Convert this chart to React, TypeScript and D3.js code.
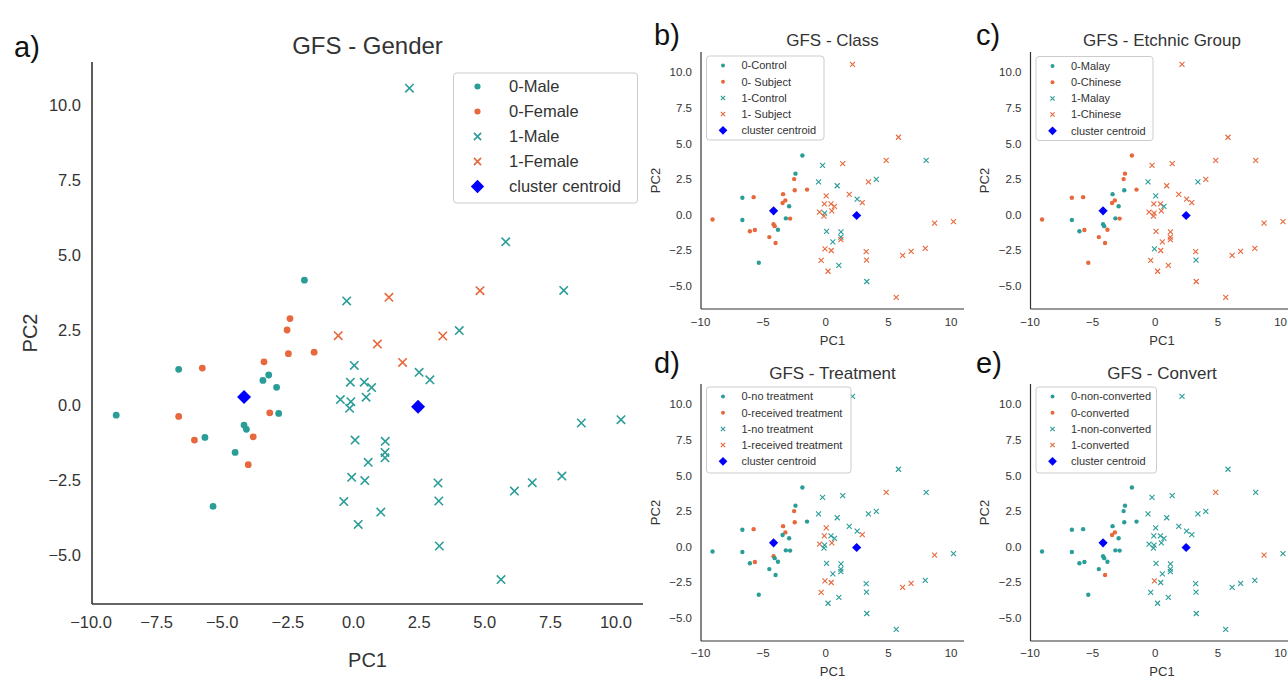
import React from "react";
import * as d3 from "d3";

// ---- data (PC1 / PC2) ----
// cluster 0 (dots)
const c0x = [-1.87, -2.42, -2.53, -2.48, -1.5, -3.41, -6.66, -5.76, -3.23, -3.45, -2.93, -9.04, -6.66, -3.19, -2.85, -4.17, -4.08, -3.82, -6.06, -5.66, -4.51, -4.01, -5.35];
const c0y = [4.16, 2.88, 2.5, 1.71, 1.76, 1.44, 1.19, 1.23, 1.0, 0.82, 0.59, -0.34, -0.38, -0.26, -0.28, -0.67, -0.81, -1.06, -1.17, -1.08, -1.58, -1.99, -3.38];
// cluster 1 (crosses)
const c1x = [2.13, 5.8, 4.82, 8.01, 1.35, -0.26, 4.03, 3.4, -0.58, 0.91, 1.87, 2.5, 2.91, 0.03, -0.12, 0.41, 0.69, -0.5, -0.1, -0.15, 0.48, 0.06, 1.21, 1.2, 1.2, 0.56, -0.07, 0.43, 3.22, -0.37, 3.25, 1.04, 0.18, 3.27, 5.62, 6.13, 6.81, 7.94, 8.68, 10.19];
const c1y = [10.56, 5.44, 3.81, 3.82, 3.59, 3.47, 2.48, 2.3, 2.31, 2.03, 1.42, 1.09, 0.84, 1.32, 0.76, 0.76, 0.58, 0.18, 0.11, -0.11, 0.26, -1.17, -1.21, -1.58, -1.76, -1.91, -2.41, -2.52, -2.6, -3.22, -3.2, -3.57, -3.98, -4.7, -5.82, -2.87, -2.59, -2.37, -0.6, -0.49];
const centroidX = [-4.17, 2.46];
const centroidY = [0.27, -0.06];

// group membership per panel (0 = first group / teal, 1 = second group / orange)
const gender0 = [0, 1, 1, 1, 1, 1, 0, 1, 0, 0, 0, 0, 1, 1, 0, 0, 0, 1, 1, 0, 0, 1, 0];
const gender1 = [0, 0, 1, 0, 1, 0, 0, 1, 1, 1, 1, 0, 0, 0, 0, 0, 0, 0, 0, 0, 0, 0, 0, 0, 0, 0, 0, 0, 0, 0, 0, 0, 0, 0, 0, 0, 0, 0, 0, 0];
const class0 = [0, 0, 1, 1, 1, 1, 0, 1, 1, 1, 0, 1, 0, 0, 1, 1, 1, 0, 1, 1, 1, 1, 0];
const class1 = [1, 1, 1, 0, 1, 0, 0, 1, 0, 0, 1, 0, 1, 1, 1, 1, 1, 1, 0, 1, 1, 0, 0, 0, 1, 0, 1, 1, 1, 1, 1, 0, 1, 0, 1, 1, 1, 1, 1, 1];
const ethnic0 = [1, 1, 1, 0, 1, 0, 1, 1, 1, 1, 0, 1, 0, 0, 1, 0, 0, 1, 0, 1, 1, 1, 1];
const ethnic1 = [1, 1, 1, 1, 1, 1, 1, 0, 0, 1, 1, 1, 1, 0, 1, 1, 0, 1, 1, 1, 1, 1, 1, 1, 1, 1, 0, 1, 1, 1, 0, 1, 1, 1, 1, 1, 1, 1, 1, 1];
const treat0 = [0, 0, 1, 1, 0, 1, 0, 1, 1, 0, 0, 0, 0, 0, 0, 1, 0, 0, 0, 1, 0, 0, 0];
const treat1 = [0, 0, 1, 0, 0, 0, 0, 0, 0, 0, 0, 0, 1, 1, 1, 0, 0, 1, 0, 0, 1, 0, 0, 0, 0, 0, 1, 1, 0, 1, 0, 0, 0, 0, 0, 1, 1, 0, 1, 0];
const convert0 = [0, 0, 0, 0, 0, 0, 0, 0, 1, 1, 0, 0, 0, 0, 0, 0, 0, 0, 0, 0, 0, 1, 0];
const convert1 = [0, 0, 1, 0, 0, 0, 0, 0, 0, 0, 0, 0, 0, 0, 0, 0, 0, 0, 0, 0, 0, 0, 0, 0, 0, 0, 1, 0, 0, 0, 0, 0, 0, 0, 0, 0, 0, 0, 1, 0];

const genderLabels = ["0-Male", "0-Female", "1-Male", "1-Female", "cluster centroid"];
const classLabels = ["0-Control", "0- Subject", "1-Control", "1- Subject", "cluster centroid"];
const ethnicLabels = ["0-Malay", "0-Chinese", "1-Malay", "1-Chinese", "cluster centroid"];
const treatLabels = ["0-no treatment", "0-received treatment", "1-no treatment", "1-received treatment", "cluster centroid"];
const convertLabels = ["0-non-converted", "0-converted", "1-non-converted", "1-converted", "cluster centroid"];

const xTicksMain = [-10, -7.5, -5, -2.5, 0, 2.5, 5, 7.5, 10];
const xTicksSmall = [-10, -5, 0, 5, 10];
const yTicks = [-5, -2.5, 0, 2.5, 5, 7.5, 10];

const X_DOMAIN: [number, number] = [-9.962, 11.029];
const Y_DOMAIN: [number, number] = [-6.633, 11.433];

const TEAL = "#2A9D98";
const ORANGE = "#E6683C";
const BLUE = "#0000FF";
const TXT = "#333333";
const FONT = "'Liberation Sans', Arial, Helvetica, sans-serif";

type Style = {
  r: number; cs: number; sw: number; ds: number;
  tickFont: number; titleFont: number; letterFont: number; axisFont: number; legendFont: number;
  spineW: number;
};

const mainStyle: Style = { r: 3.4, cs: 4.2, sw: 1.6, ds: 7, tickFont: 16.5, titleFont: 24, letterFont: 29, axisFont: 20, legendFont: 16.5, spineW: 1.6 };
const smallStyle: Style = { r: 2.2, cs: 2.5, sw: 1.1, ds: 4.6, tickFont: 11.5, titleFont: 17, letterFont: 29, axisFont: 13, legendFont: 11, spineW: 1.2 };

const crossPath = (x: number, y: number, s: number) =>
  `M${x - s},${y - s}L${x + s},${y + s}M${x - s},${y + s}L${x + s},${y - s}`;
const diamondPath = (x: number, y: number, s: number) =>
  `M${x},${y - s}L${x + s},${y}L${x},${y + s}L${x - s},${y}Z`;

type PanelProps = {
  left: number; top: number; width: number; height: number;
  letter: string; letterX: number; letterY: number;
  title: string; titleY: number;
  labels: string[]; f0: number[]; f1: number[];
  xTicks: number[]; xFmt: (v: number) => string;
  st: Style;
  legend: { x: number; y: number; w: number; h: number; row0: number; rowH: number; mx: number; tx: number };
  ylabX: number; xlabY: number; xTickDy: number; yTickDx: number;
};

function Panel(p: PanelProps) {
  const x = d3.scaleLinear().domain(X_DOMAIN).range([p.left, p.left + p.width]);
  const y = d3.scaleLinear().domain(Y_DOMAIN).range([p.top + p.height, p.top]);
  const st = p.st;
  const bottom = p.top + p.height;
  const yFmt = d3.format(".1f");
  const lg = p.legend;
  const legendMarker = (i: number, cy: number) => {
    const cx = lg.mx;
    if (i === 0) return <circle cx={cx} cy={cy} r={st.r * 0.9} fill={TEAL} />;
    if (i === 1) return <circle cx={cx} cy={cy} r={st.r * 0.9} fill={ORANGE} />;
    if (i === 2) return <path d={crossPath(cx, cy, st.cs * 0.85)} stroke={TEAL} strokeWidth={st.sw} fill="none" />;
    if (i === 3) return <path d={crossPath(cx, cy, st.cs * 0.85)} stroke={ORANGE} strokeWidth={st.sw} fill="none" />;
    return <path d={diamondPath(cx, cy, st.ds * 0.95)} fill={BLUE} />;
  };
  return (
    <g fontFamily={FONT}>
      <text x={p.letterX} y={p.letterY} fontSize={st.letterFont} fill="#111">{p.letter}</text>
      <text x={p.left + p.width / 2} y={p.titleY} fontSize={st.titleFont} textAnchor="middle" fill={TXT}>{p.title}</text>
      {/* spines */}
      <line x1={p.left} x2={p.left} y1={p.top} y2={bottom} stroke={TXT} strokeWidth={st.spineW} />
      <line x1={p.left} x2={p.left + p.width} y1={bottom} y2={bottom} stroke={TXT} strokeWidth={st.spineW} />
      {/* ticks */}
      {p.xTicks.map((t) => (
        <text key={"x" + t} x={x(t)} y={bottom + p.xTickDy} fontSize={st.tickFont} textAnchor="middle" fill={TXT}>{p.xFmt(t)}</text>
      ))}
      {yTicks.map((t) => (
        <text key={"y" + t} x={p.left - p.yTickDx} y={y(t)} dy="0.35em" fontSize={st.tickFont} textAnchor="end" fill={TXT}>{yFmt(t)}</text>
      ))}
      <text x={p.left + p.width / 2} y={p.xlabY} fontSize={st.axisFont} textAnchor="middle" fill={TXT}>PC1</text>
      <text transform={`translate(${p.ylabX},${p.top + p.height / 2}) rotate(-90)`} fontSize={st.axisFont} textAnchor="middle" dy="0.35em" fill={TXT}>PC2</text>
      {/* points cluster 0 */}
      {c0x.map((v, i) => (
        <circle key={"a" + i} cx={x(v)} cy={y(c0y[i])} r={st.r} fill={p.f0[i] ? ORANGE : TEAL} />
      ))}
      {/* points cluster 1 */}
      {c1x.map((v, i) => (
        <path key={"b" + i} d={crossPath(x(v), y(c1y[i]), st.cs)} stroke={p.f1[i] ? ORANGE : TEAL} strokeWidth={st.sw} fill="none" />
      ))}
      {centroidX.map((v, i) => (
        <path key={"c" + i} d={diamondPath(x(v), y(centroidY[i]), st.ds)} fill={BLUE} />
      ))}
      {/* legend */}
      <rect x={lg.x} y={lg.y} width={lg.w} height={lg.h} rx={3} fill="white" fillOpacity={0.85} stroke="#cccccc" strokeWidth={1} />
      {p.labels.map((l, i) => {
        const cy = lg.row0 + i * lg.rowH;
        return (
          <g key={"l" + i}>
            {legendMarker(i, cy)}
            <text x={lg.tx} y={cy} dy="0.35em" fontSize={st.legendFont} fill={TXT}>{l}</text>
          </g>
        );
      })}
    </g>
  );
}

const fmtMain = d3.format(".1f");
const fmtSmall = d3.format("d");

export default function App() {
  const smallLegend = (x: number, y: number, w: number, h: number) => ({ x, y, w, h, row0: y + 9.5, rowH: 16.2, mx: x + 16.5, tx: x + 35 });
  return (
    <svg width={1288} height={679} style={{ position: "absolute", left: 0, top: 0, background: "white" }}>
      <rect width={1288} height={679} fill="white" />
      <Panel left={92} top={62} width={551} height={542} letter="a)" letterX={14} letterY={57}
        title="GFS - Gender" titleY={54} labels={genderLabels} f0={gender0} f1={gender1}
        xTicks={xTicksMain} xFmt={fmtMain} st={mainStyle}
        legend={{ x: 453.5, y: 73, w: 184, h: 130, row0: 86.5, rowH: 25, mx: 477.5, tx: 509 }}
        ylabX={30} xlabY={667} xTickDy={24} yTickDx={11} />
      <Panel left={701} top={52} width={263} height={257} letter="b)" letterX={654} letterY={45}
        title="GFS - Class" titleY={46} labels={classLabels} f0={class0} f1={class1}
        xTicks={xTicksSmall} xFmt={fmtSmall} st={smallStyle}
        legend={smallLegend(706.5, 56, 117.5, 84)}
        ylabX={655} xlabY={345} xTickDy={17} yTickDx={9} />
      <Panel left={1030.5} top={52} width={263} height={257} letter="c)" letterX={976} letterY={45}
        title="GFS - Etchnic Group" titleY={46} labels={ethnicLabels} f0={ethnic0} f1={ethnic1}
        xTicks={xTicksSmall} xFmt={fmtSmall} st={smallStyle}
        legend={smallLegend(1036, 56.5, 117, 84)}
        ylabX={984} xlabY={345} xTickDy={17} yTickDx={9} />
      <Panel left={701} top={384} width={263} height={257} letter="d)" letterX={654} letterY={373}
        title="GFS - Treatment" titleY={379} labels={treatLabels} f0={treat0} f1={treat1}
        xTicks={xTicksSmall} xFmt={fmtSmall} st={smallStyle}
        legend={smallLegend(706.5, 387, 144.5, 86)}
        ylabX={655} xlabY={676} xTickDy={16} yTickDx={9} />
      <Panel left={1030.5} top={384} width={263} height={257} letter="e)" letterX={976} letterY={373}
        title="GFS - Convert" titleY={379} labels={convertLabels} f0={convert0} f1={convert1}
        xTicks={xTicksSmall} xFmt={fmtSmall} st={smallStyle}
        legend={smallLegend(1036, 387, 120.5, 86)}
        ylabX={984} xlabY={676} xTickDy={16} yTickDx={9} />
    </svg>
  );
}
